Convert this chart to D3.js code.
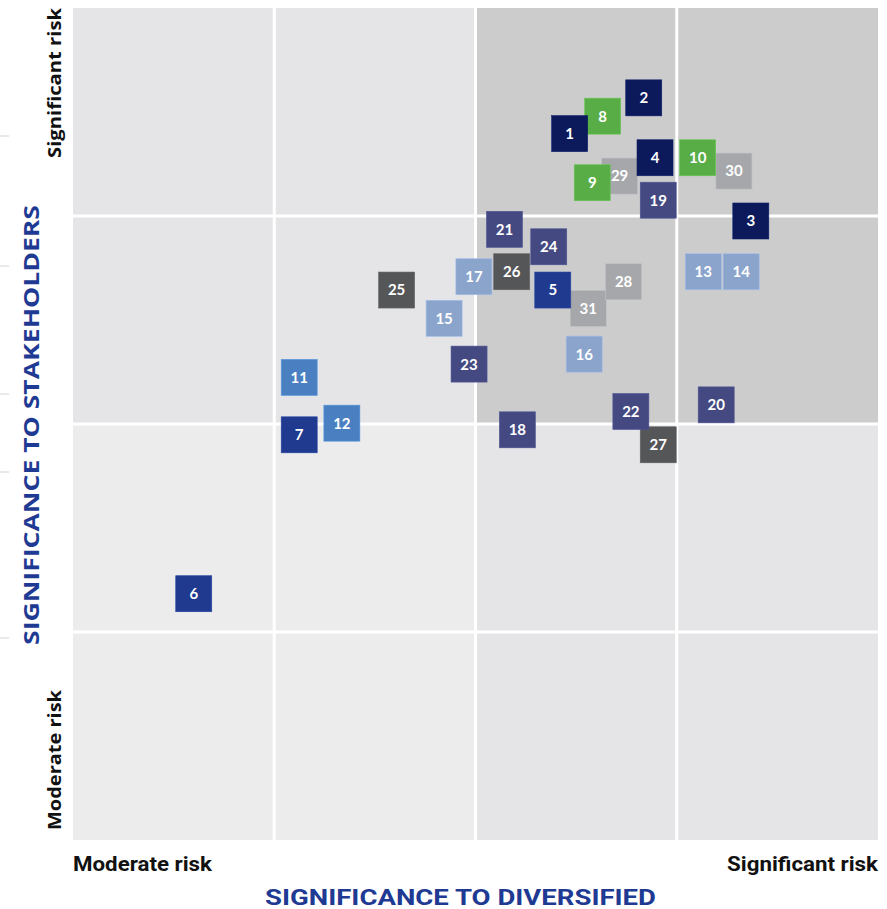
<!DOCTYPE html>
<html>
<head>
<meta charset="utf-8">
<script src="https://cdn.jsdelivr.net/npm/d3@7"></script>
<style>
  html, body { margin: 0; padding: 0; background: #ffffff; }
  svg { display: block; }
</style>
</head>
<body>
<svg id="chart" width="887" height="909"></svg>
<script>
// Risk identifiers plotted on the materiality matrix
const ids = [1, 2, 3, 4, 5, 6, 7, 8, 9, 10, 11, 12, 13, 14, 15, 16,
             17, 18, 19, 20, 21, 22, 23, 24, 25, 26, 27, 28, 29, 30, 31];
// Significance to Diversified (0 = moderate, 100 = significant)
const diversified = [61.7, 70.9, 84.2, 72.3, 59.6, 15.0, 28.1, 65.8, 64.5, 77.6, 28.1, 33.4, 78.3, 83.0, 46.1, 63.5,
                     49.8, 55.2, 72.7, 79.9, 53.6, 69.3, 49.2, 59.1, 40.2, 54.5, 72.7, 68.4, 67.9, 82.1, 64.0];
// Significance to stakeholders (0 = moderate, 100 = significant)
const stakeholders = [84.9, 89.2, 74.4, 82.0, 66.1, 29.6, 48.7, 87.0, 79.0, 82.0, 55.6, 50.1, 68.3, 68.3, 62.7, 58.4,
                      67.7, 49.3, 76.9, 52.3, 73.4, 51.5, 57.2, 71.3, 66.1, 68.3, 47.5, 67.1, 79.8, 80.4, 63.9];
// Theme group of each risk
const groups = ["navy", "navy", "navy", "navy", "royal", "royal", "royal", "green", "green", "green", "mid", "mid",
                "light", "light", "light", "light", "light", "slate", "slate", "slate", "slate", "slate", "slate", "slate",
                "charcoal", "charcoal", "charcoal", "silver", "silver", "silver", "silver"];
const groupNames = ["navy", "royal", "green", "mid", "light", "slate", "charcoal", "silver"];
const groupColors = ["#0c1a5c", "#1f3a8e", "#58ad47", "#4a80c2", "#8ba4cc", "#444a81", "#555658", "#a6a7aa"];

// Axis end labels and titles
const endLabels = ["Moderate risk", "Significant risk"];
const xTitle = "SIGNIFICANCE TO DIVERSIFIED";
const yTitle = "SIGNIFICANCE TO STAKEHOLDERS";
const gridValues = [25, 50, 75];

const svg = d3.select("#chart");
const plot = { left: 73, right: 878, top: 8, bottom: 840 };

const x = d3.scaleLinear().domain([0, 100]).range([plot.left, plot.right]);
const y = d3.scaleLinear().domain([0, 100]).range([plot.bottom, plot.top]);
const color = d3.scaleOrdinal().domain(groupNames).range(groupColors);

// Quadrant backgrounds
const quadrants = [
  { x0: 0, x1: 50, y0: 50, y1: 100, fill: "#e5e5e7" },
  { x0: 50, x1: 100, y0: 50, y1: 100, fill: "#cccccd" },
  { x0: 0, x1: 50, y0: 0, y1: 50, fill: "#ececed" },
  { x0: 50, x1: 100, y0: 0, y1: 50, fill: "#e5e5e7" }
];
svg.append("g").selectAll("rect").data(quadrants).join("rect")
  .attr("x", d => x(d.x0)).attr("y", d => y(d.y1))
  .attr("width", d => x(d.x1) - x(d.x0)).attr("height", d => y(d.y0) - y(d.y1))
  .attr("fill", d => d.fill);

// White grid lines
const grid = svg.append("g").attr("stroke", "#ffffff").attr("stroke-width", 3);
grid.selectAll("line.v").data(gridValues).join("line").attr("class", "v")
  .attr("x1", d => x(d)).attr("x2", d => x(d)).attr("y1", plot.top).attr("y2", plot.bottom);
grid.selectAll("line.h").data(gridValues).join("line").attr("class", "h")
  .attr("y1", d => y(d)).attr("y2", d => y(d)).attr("x1", plot.left).attr("x2", plot.right);

// Faint tick marks at the far left edge
const edgeTicks = [136, 266, 394, 472, 638];
svg.append("g").selectAll("line").data(edgeTicks).join("line")
  .attr("x1", 0).attr("x2", 9).attr("y1", d => d).attr("y2", d => d)
  .attr("stroke", "#d4d4d6").attr("stroke-width", 1);

// Risk markers
const points = ids.map((id, i) => ({ id, dx: diversified[i], sy: stakeholders[i], group: groups[i] }));
const box = 36;
const marks = svg.append("g").selectAll("g").data(points.slice().reverse()).join("g")
  .attr("transform", d => `translate(${x(d.dx)},${y(d.sy)})`);
marks.append("rect")
  .attr("x", -box / 2).attr("y", -box / 2).attr("width", box).attr("height", box)
  .attr("fill", d => color(d.group))
  .attr("stroke", d => d3.color(color(d.group)).brighter(0.4))
  .attr("stroke-width", 0.6);
marks.append("text")
  .attr("text-anchor", "middle").attr("dy", "0.36em")
  .attr("fill", "#ffffff")
  .attr("font-family", "Lato, 'Open Sans', sans-serif")
  .attr("font-weight", 700).attr("font-size", 15)
  .text(d => d.id);

// Axis end labels
const labelFont = "Roboto, 'Liberation Sans', sans-serif";
svg.append("text").attr("x", plot.left).attr("y", 871)
  .attr("font-family", labelFont).attr("font-weight", 700).attr("font-size", 20)
  .attr("textLength", 139).attr("lengthAdjust", "spacingAndGlyphs")
  .attr("fill", "#111111").text(endLabels[0]);
svg.append("text").attr("x", plot.right).attr("y", 871).attr("text-anchor", "end")
  .attr("font-family", labelFont).attr("font-weight", 700).attr("font-size", 20)
  .attr("textLength", 151).attr("lengthAdjust", "spacingAndGlyphs")
  .attr("fill", "#111111").text(endLabels[1]);

svg.append("text").attr("transform", "translate(61,158) rotate(-90)")
  .attr("font-family", "'Open Sans', sans-serif").attr("font-weight", 700).attr("font-size", 18)
  .attr("textLength", 150).attr("lengthAdjust", "spacingAndGlyphs")
  .attr("fill", "#111111").text(endLabels[1]);
svg.append("text").attr("transform", "translate(61,830) rotate(-90)")
  .attr("font-family", "'Open Sans', sans-serif").attr("font-weight", 700).attr("font-size", 18)
  .attr("textLength", 140).attr("lengthAdjust", "spacingAndGlyphs")
  .attr("fill", "#111111").text(endLabels[0]);

// Axis titles
svg.append("text").attr("x", 265).attr("y", 905)
  .attr("font-family", labelFont).attr("font-weight", 700).attr("font-size", 22)
  .attr("textLength", 391).attr("lengthAdjust", "spacingAndGlyphs")
  .attr("fill", "#1f3a93").text(xTitle);
svg.append("text").attr("transform", "translate(39,645) rotate(-90)")
  .attr("font-family", "'Open Sans', sans-serif").attr("font-weight", 700).attr("font-size", 21)
  .attr("textLength", 440).attr("lengthAdjust", "spacingAndGlyphs")
  .attr("fill", "#1f3a93").text(yTitle);
</script>
</body>
</html>
